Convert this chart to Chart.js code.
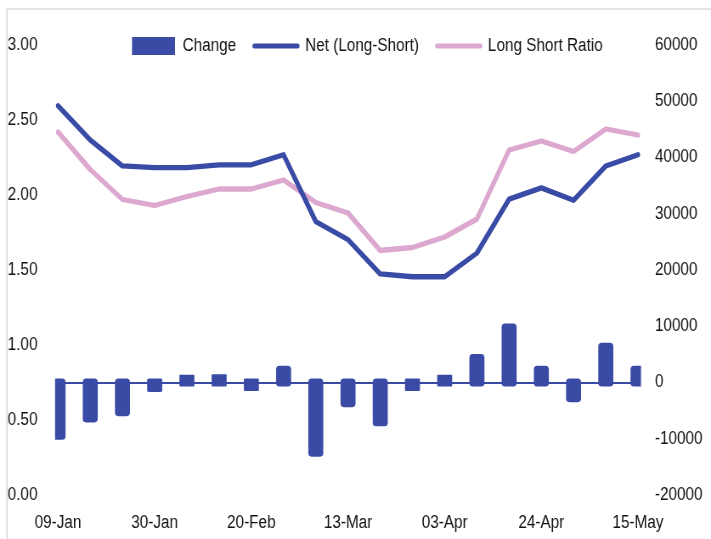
<!DOCTYPE html>
<html>
<head>
<meta charset="utf-8">
<script src="https://cdn.jsdelivr.net/npm/chart.js@4/dist/chart.umd.min.js"></script>
<style>
  html, body { margin: 0; padding: 0; background: #fff; }
  #wrap { position: relative; width: 711px; height: 539px; overflow: hidden; }
  #frame { position: absolute; left: 6px; top: 8px; width: 720px; height: 560px;
           border-top: 2px solid #e4e4e4; border-left: 2px solid #e4e4e4; }
  #c { position: absolute; left: 0; top: 0; transform-origin: 0 0; }
</style>
</head>
<body>
<div id="wrap">
  <div id="frame"></div>
  <canvas id="c" width="837" height="539"></canvas>
</div>
<script>
// ---- data ----
const categories = ['09-Jan','16-Jan','23-Jan','30-Jan','06-Feb','13-Feb','20-Feb','27-Feb','06-Mar','13-Mar',
                    '20-Mar','27-Mar','03-Apr','10-Apr','17-Apr','24-Apr','01-May','08-May','15-May'];
const changeValues = [-9300, -6200, -5100, -800, 500, 600, -600, 2100, -12300, -3500,
                      -6900, -600, 500, 4200, 9600, 2100, -2600, 6200, 2100];
const netValues = [49200, 43100, 38500, 38200, 38200, 38700, 38700, 40500, 28600, 25400,
                   19300, 18800, 18800, 23000, 32600, 34600, 32400, 38500, 40500];
const ratioValues = [2.42, 2.17, 1.97, 1.93, 1.99, 2.04, 2.04, 2.10, 1.95, 1.88,
                     1.63, 1.65, 1.72, 1.84, 2.30, 2.36, 2.29, 2.44, 2.40];
const leftTicks = [0, 0.5, 1, 1.5, 2, 2.5, 3];
const rightTicks = [-20000, -10000, 0, 10000, 20000, 30000, 40000, 50000, 60000];
const shownLabelStep = 3;

// ---- look ----
const CANVAS_W = 837, SCREEN_W = 711;
const SX = SCREEN_W / CANVAS_W;               // horizontal squeeze (narrow type, as in the original)
document.getElementById('c').style.transform = 'scaleX(' + SX + ')';
const BLUE = '#3a4ba5';
const PINK = '#dca8cf';
const FONT = "'Liberation Sans', Arial, sans-serif";
const FS = 18;
const px = v => v / SX;                        // screen x -> canvas x

const legendPlace = {
  id: 'legendPlace',
  afterLayout(chart) {
    const lg = chart.legend;
    if (!lg || !lg.lineWidths) return;
    const pad = lg.options.labels.padding;
    const x0 = (lg.left + pad + lg.right - lg.lineWidths[0]) / 2;
    const dx = px(132) - x0;
    const dy = 46 - (lg.top + pad + FS / 2);
    lg.left += dx; lg.right += dx; lg.top += dy; lg.bottom += dy;
  }
};

new Chart(document.getElementById('c'), {
  data: {
    labels: categories,
    datasets: [
      {
        type: 'bar', label: 'Change', data: changeValues, yAxisID: 'y1',
        backgroundColor: BLUE, borderWidth: 0, borderSkipped: false,
        borderRadius: 8, barThickness: 7.7, inflateAmount: 5,
        clip: {left: 3.5, right: 3.5, top: false, bottom: false}, order: 3
      },
      {
        type: 'line', label: 'Net (Long-Short)', data: netValues, yAxisID: 'y1',
        borderColor: BLUE, backgroundColor: BLUE, borderWidth: 5.3, pointRadius: 0,
        tension: 0, borderCapStyle: 'round', borderJoinStyle: 'round', order: 1
      },
      {
        type: 'line', label: 'Long Short Ratio', data: ratioValues, yAxisID: 'y',
        borderColor: PINK, backgroundColor: PINK, borderWidth: 5.3, pointRadius: 0,
        tension: 0, borderCapStyle: 'round', borderJoinStyle: 'round', order: 2
      }
    ]
  },
  options: {
    responsive: false,
    devicePixelRatio: 1,
    animation: false,
    layout: { padding: { left: px(8), right: 0, top: 0, bottom: 0 } },
    font: { family: FONT, size: FS },
    plugins: {
      tooltip: { enabled: false },
      legend: {
        position: 'top',
        maxHeight: 45,
        labels: {
          color: '#111',
          font: { family: FONT, size: FS },
          usePointStyle: true,
          pointStyleWidth: px(43),
          padding: 21.5,
          sort: (a, b) => a.datasetIndex - b.datasetIndex,
          generateLabels(chart) {
            const base = Chart.defaults.plugins.legend.labels.generateLabels(chart);
            return base.map(l => Object.assign(l, l.datasetIndex === 0
              ? { pointStyle: 'rect', lineWidth: 0 }
              : { pointStyle: 'line', lineWidth: 5, lineCap: 'round' }));
          }
        }
      }
    },
    scales: {
      x: {
        offset: false,
        grid: { display: false, drawTicks: false },
        border: { display: false },
        afterFit(axis) { axis.height = 44; },
        ticks: {
          autoSkip: false, maxRotation: 0, padding: 17, color: '#111',
          font: { family: FONT, size: FS },
          callback(v, i) { return i % shownLabelStep === 0 ? categories[i] : ''; }
        }
      },
      y: {
        position: 'left', min: 0, max: 3,
        grid: { display: false, drawTicks: false },
        border: { display: false },
        afterFit(axis) { axis.width = px(58) - px(8); },
        afterBuildTicks(axis) { axis.ticks = leftTicks.map(v => ({ value: v })); },
        ticks: {
          padding: px(20.5), color: '#111', font: { family: FONT, size: FS },
          callback: v => Number(v).toFixed(2)
        }
      },
      y1: {
        position: 'right', min: -20000, max: 60000,
        grid: {
          drawTicks: false,
          color: c => (c.tick && c.tick.value === 0) ? BLUE : 'rgba(0,0,0,0)',
          lineWidth: 2
        },
        border: { display: false },
        afterFit(axis) { axis.width = CANVAS_W - px(638); },
        afterBuildTicks(axis) { axis.ticks = rightTicks.map(v => ({ value: v })); },
        ticks: {
          padding: px(17), color: '#111', font: { family: FONT, size: FS },
          callback: v => String(v)
        }
      }
    }
  },
  plugins: [legendPlace]
});
</script>
</body>
</html>
